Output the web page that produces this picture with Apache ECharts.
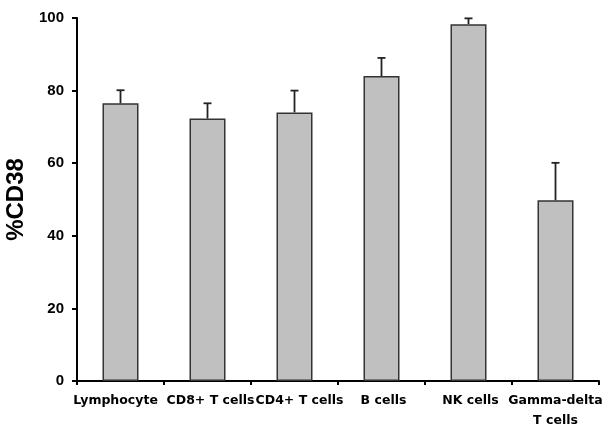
<!DOCTYPE html>
<html>
<head>
<meta charset="utf-8">
<script src="https://cdn.jsdelivr.net/npm/echarts@6/dist/echarts.min.js"></script>
<style>
  html, body { margin: 0; padding: 0; background: #fff; }
  #chart_box { width: 603px; height: 426px; }
</style>
</head>
<body>
<div id="chart_box"></div>
<script>
// 数据
var cellTypes = ['Lymphocyte', 'CD8+ T cells', 'CD4+ T cells', 'B cells', 'NK cells', 'Gamma-delta\nT cells'];
var cd38Mean = [76.5, 72.3, 74.0, 84.0, 98.3, 49.8];
var cd38Err = [3.6, 4.2, 6.0, 5.0, 1.6, 10.3];
var yTicks = [0, 20, 40, 60, 80, 100];

// 标签的小偏移(像素)
var labelShift = [-5, 3, 5, 2, 2, 0];

var myChart1 = echarts.init(document.getElementById('chart_box'));

var axisData = cellTypes.map(function (name, i) {
    var s = labelShift[i];
    return {
        value: name,
        textStyle: { padding: [0, s < 0 ? -2 * s : 0, 0, s > 0 ? 2 * s : 0] }
    };
});

var errData = cd38Mean.map(function (v, i) {
    return [i, v, v + cd38Err[i]];
});

var option = {
    animation: false,
    grid: { left: 77, right: 4, top: 18, bottom: 45, outerBoundsMode: 'none', containLabel: false },
    xAxis: {
        type: 'category',
        data: axisData,
        axisLine: { lineStyle: { color: '#000', width: 2 } },
        axisTick: { show: true, length: 4, lineStyle: { color: '#000', width: 2 } },
        axisLabel: {
            color: '#000', fontWeight: 'bold', fontSize: 12.5,
            fontFamily: 'DejaVu Sans, sans-serif',
            margin: 10, lineHeight: 20, interval: 0, hideOverlap: false
        }
    },
    yAxis: {
        type: 'value',
        min: yTicks[0],
        max: yTicks[yTicks.length - 1],
        interval: 20,
        name: '%CD38',
        nameLocation: 'middle',
        nameGap: 44,
        nameTextStyle: {
            color: '#000', fontWeight: 'bold', fontSize: 24,
            fontFamily: 'Liberation Sans, Arial, sans-serif'
        },
        axisLine: { show: true, lineStyle: { color: '#000', width: 2 } },
        axisTick: { show: true, length: 5, lineStyle: { color: '#000', width: 2 } },
        splitLine: { show: false },
        axisLabel: {
            color: '#000', fontWeight: 'bold', fontSize: 15,
            fontFamily: 'Liberation Sans, Arial, sans-serif', margin: 13
        }
    },
    series: [
        {
            type: 'bar',
            data: cd38Mean,
            barWidth: 36,
            itemStyle: { color: '#c0c0c0', borderColor: '#333', borderWidth: 1.5 }
        },
        {
            type: 'custom',
            data: errData,
            z: 1,
            renderItem: function (params, api) {
                var lo = api.coord([api.value(0), api.value(1)]);
                var hi = api.coord([api.value(0), api.value(2)]);
                return {
                    type: 'group',
                    children: [
                        { type: 'line', shape: { x1: lo[0], y1: lo[1], x2: hi[0], y2: hi[1] },
                          style: { stroke: '#222', lineWidth: 1.8 } },
                        { type: 'line', shape: { x1: hi[0] - 4, y1: hi[1], x2: hi[0] + 4, y2: hi[1] },
                          style: { stroke: '#222', lineWidth: 1.8 } }
                    ]
                };
            }
        }
    ]
};
myChart1.setOption(option);
</script>
</body>
</html>
